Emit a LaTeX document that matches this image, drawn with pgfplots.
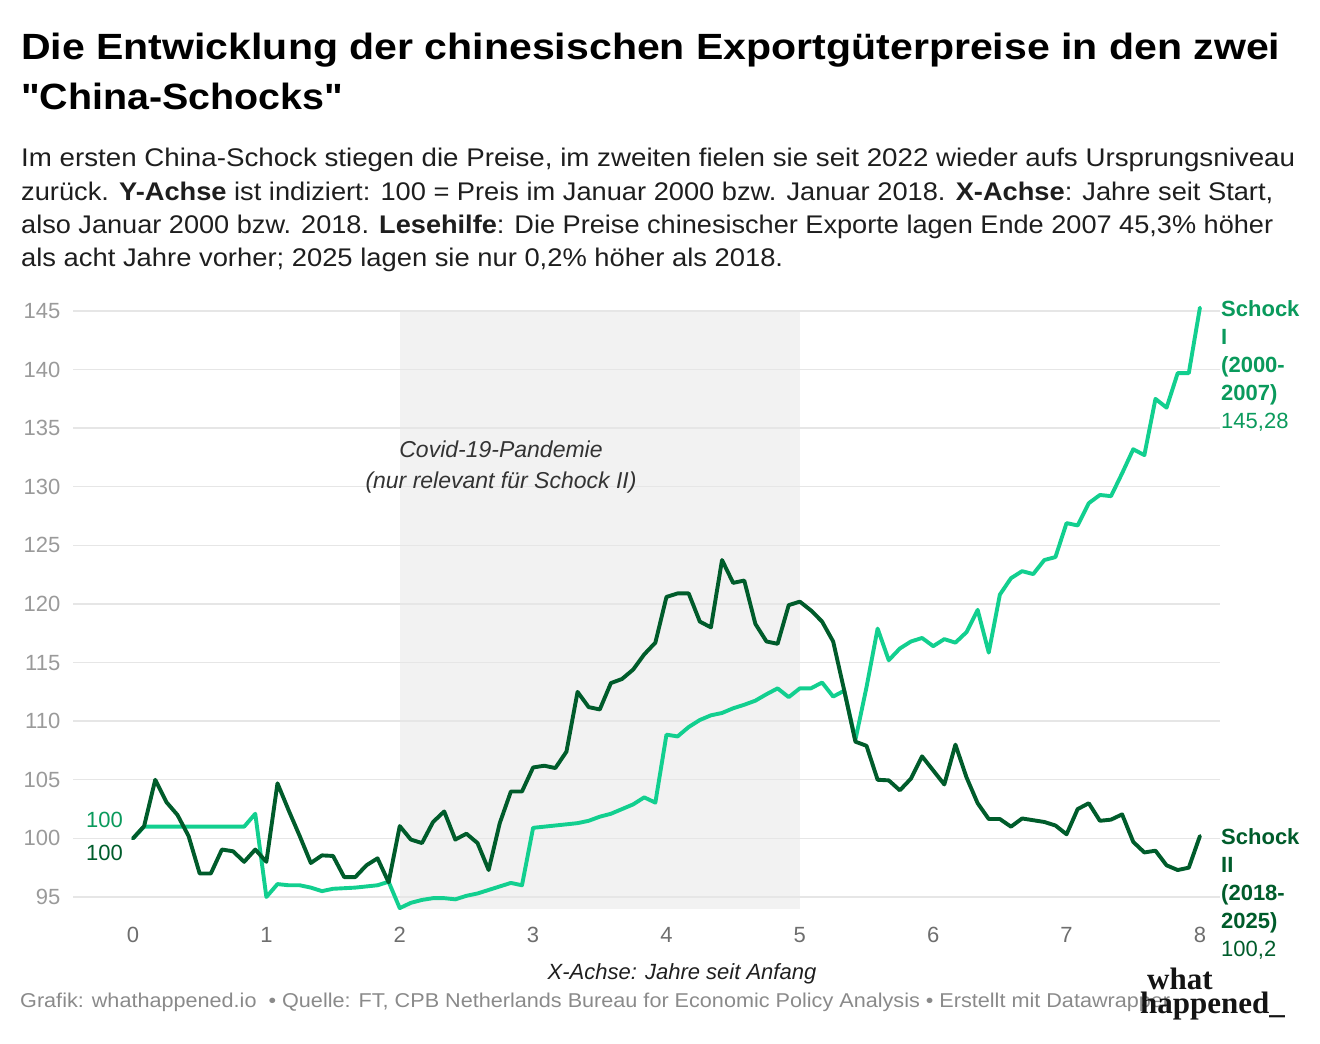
\documentclass[border=0pt]{standalone}
\usepackage{fontspec}
\setmainfont{Liberation Sans}
\newfontfamily\logofont{Liberation Serif}
\usepackage{graphicx}
\usepackage{pgfplots}
\usepackage{pgfplotstable}
\pgfplotsset{compat=1.18}

\definecolor{lightg}{HTML}{12CF8F}
\definecolor{darkg}{HTML}{005C2B}
\definecolor{lightlab}{HTML}{0A9A5C}
\definecolor{gridc}{HTML}{E6E6E6}
\definecolor{shadec}{HTML}{F2F2F2}
\definecolor{ytc}{HTML}{9A9A9A}
\definecolor{xtc}{HTML}{6E6E6E}
\definecolor{footc}{HTML}{8A8A8A}
\definecolor{subc}{HTML}{1E1E1E}
\definecolor{covc}{HTML}{333333}

\newcommand\fitline[2]{\resizebox{#1}{\height}{#2}}

\pgfplotstableread{
m v
0 100
1 101
2 101
3 101
4 101
5 101
6 101
7 101
8 101
9 101
10 101
11 102.1
12 95.0
13 96.1
14 96.0
15 96.0
16 95.8
17 95.5
18 95.7
19 95.75
20 95.8
21 95.9
22 96.0
23 96.3
24 94.05
25 94.5
26 94.75
27 94.9
28 94.9
29 94.8
30 95.1
31 95.3
32 95.6
33 95.9
34 96.2
35 96.0
36 100.9
37 101.0
38 101.1
39 101.2
40 101.3
41 101.5
42 101.85
43 102.1
44 102.5
45 102.9
46 103.5
47 103.05
48 108.85
49 108.7
50 109.5
51 110.1
52 110.5
53 110.7
54 111.1
55 111.4
56 111.75
57 112.3
58 112.8
59 112.05
60 112.8
61 112.8
62 113.3
63 112.1
64 112.6
65 108.4
66 112.9
67 117.9
68 115.2
69 116.2
70 116.8
71 117.1
72 116.4
73 117.0
74 116.7
75 117.6
76 119.5
77 115.85
78 120.8
79 122.2
80 122.8
81 122.55
82 123.75
83 124.0
84 126.9
85 126.7
86 128.6
87 129.3
88 129.2
89 131.15
90 133.2
91 132.7
92 137.5
93 136.75
94 139.7
95 139.7
96 145.28
}\schockI

\pgfplotstableread{
m v
0 100
1 101.05
2 105.0
3 103.1
4 102.0
5 100.2
6 97.0
7 97.0
8 99.05
9 98.9
10 98.0
11 99.05
12 98.0
13 104.7
14 102.4
15 100.2
16 97.9
17 98.55
18 98.5
19 96.7
20 96.7
21 97.7
22 98.3
23 96.25
24 101.05
25 99.9
26 99.6
27 101.4
28 102.3
29 99.9
30 100.4
31 99.6
32 97.3
33 101.3
34 104.0
35 104.0
36 106.05
37 106.2
38 106.0
39 107.4
40 112.5
41 111.2
42 111.0
43 113.25
44 113.6
45 114.4
46 115.7
47 116.7
48 120.6
49 120.9
50 120.9
51 118.5
52 118.0
53 123.75
54 121.8
55 122.0
56 118.3
57 116.8
58 116.6
59 119.9
60 120.2
61 119.45
62 118.5
63 116.8
64 112.6
65 108.25
66 107.9
67 105.0
68 104.95
69 104.1
70 105.1
71 107.0
72 105.8
73 104.6
74 108.0
75 105.2
76 103.0
77 101.65
78 101.65
79 101.0
80 101.7
81 101.55
82 101.4
83 101.1
84 100.35
85 102.5
86 103.0
87 101.5
88 101.6
89 102.05
90 99.7
91 98.8
92 98.95
93 97.7
94 97.3
95 97.5
96 100.2
}\schockII

\begin{document}
\begin{tikzpicture}[x=1pt,y=1pt]
\path (0,0) rectangle (1320,-1044);

% Title
\node[anchor=base west, inner sep=0pt, font=\fontsize{36.5}{40}\selectfont\bfseries] at (21,-59.3)
  {\fitline{1259pt}{Die Entwicklung der chinesischen Exportgüterpreise in den zwei}};
\node[anchor=base west, inner sep=0pt, font=\fontsize{36.5}{40}\selectfont\bfseries] at (21,-109.3)
  {\fitline{322pt}{\textquotedbl China-Schocks\textquotedbl}};

% Subtitle
\begin{scope}[every node/.style={anchor=base west, inner sep=0pt, text=subc, font=\fontsize{25.5}{30}\selectfont}]
\node at (21,-166.7) {\fitline{1274pt}{Im ersten China-Schock stiegen die Preise, im zweiten fielen sie seit 2022 wieder aufs Ursprungsniveau}};
\node at (21,-200) {\fitline{1252pt}{zurück. \textbf{Y-Achse} ist indiziert: 100 = Preis im Januar 2000 bzw. Januar 2018. \textbf{X-Achse}: Jahre seit Start,}};
\node at (21,-233.3) {\fitline{1252pt}{also Januar 2000 bzw. 2018. \textbf{Lesehilfe}: Die Preise chinesischer Exporte lagen Ende 2007 45,3\% höher}};
\node at (21,-266.7) {\fitline{762pt}{als acht Jahre vorher; 2025 lagen sie nur 0,2\% höher als 2018.}};
\end{scope}

\begin{axis}[
  at={(73pt,-908.7pt)}, anchor=south west,
  scale only axis, width=1147pt, height=603.6pt,
  xmin=-0.45, xmax=8.15, ymin=94, ymax=145.5,
  axis line style={draw=none},
  major tick length=0pt,
  xtick={0,1,2,3,4,5,6,7,8},
  ytick={95,100,105,110,115,120,125,130,135,140,145},
  ymajorgrids,
  grid style={gridc, line width=1.4pt},
  /pgf/number format/assume math mode=true,
  yticklabel style={anchor=east, inner sep=0pt, xshift=-12.5pt, text=ytc, font=\fontsize{22}{24}\selectfont},
  xticklabel style={anchor=base, inner sep=0pt, yshift=-33.8pt, text=xtc, font=\fontsize{22}{24}\selectfont},
  clip=false,
  set layers,
]
\begin{pgfonlayer}{axis background}
\fill[shadec] (axis cs:2,94) rectangle (axis cs:5,145);
\end{pgfonlayer}
\addplot[lightg, line width=3.9pt, line join=round, line cap=round] table[x expr=\thisrow{m}/12, y=v] {\schockI};
\addplot[darkg, line width=3.9pt, line join=round, line cap=round] table[x expr=\thisrow{m}/12, y=v] {\schockII};
\end{axis}

% Covid annotation
\node[anchor=base, inner sep=0pt, text=covc, font=\fontsize{23}{26}\selectfont\itshape] at (501,-457.3) {Covid-19-Pandemie};
\node[anchor=base, inner sep=0pt, text=covc, font=\fontsize{23}{26}\selectfont\itshape] at (501,-488.3) {(nur relevant für Schock II)};

% Left start labels
\node[anchor=base east, inner sep=0pt, text=lightlab, font=\fontsize{22}{24}\selectfont] at (123,-827.5) {100};
\node[anchor=base east, inner sep=0pt, text=darkg, font=\fontsize{22}{24}\selectfont] at (123,-860) {100};

% Right labels
\begin{scope}[every node/.style={anchor=base west, inner sep=0pt, font=\fontsize{22}{24}\selectfont}]
\node[text=lightlab, font=\fontsize{22}{24}\selectfont\bfseries] at (1221,-316) {Schock};
\node[text=lightlab, font=\fontsize{22}{24}\selectfont\bfseries] at (1221,-344) {I};
\node[text=lightlab, font=\fontsize{22}{24}\selectfont\bfseries] at (1221,-372) {(2000-};
\node[text=lightlab, font=\fontsize{22}{24}\selectfont\bfseries] at (1221,-400) {2007)};
\node[text=lightlab] at (1221,-428) {145,28};
\node[text=darkg, font=\fontsize{22}{24}\selectfont\bfseries] at (1221,-844) {Schock};
\node[text=darkg, font=\fontsize{22}{24}\selectfont\bfseries] at (1221,-872) {II};
\node[text=darkg, font=\fontsize{22}{24}\selectfont\bfseries] at (1221,-900) {(2018-};
\node[text=darkg, font=\fontsize{22}{24}\selectfont\bfseries] at (1221,-928) {2025)};
\node[text=darkg] at (1221,-956) {100,2};
\end{scope}

% X axis title
\node[anchor=base, inner sep=0pt, text=black!88, font=\fontsize{22}{24}\selectfont\itshape] at (682,-979) {X-Achse: Jahre seit Anfang};

% Footer
\node[anchor=base west, inner sep=0pt, text=footc, font=\fontsize{20}{22}\selectfont] at (20,-1007)
  {\fitline{1150pt}{Grafik: whathappened.io \ • Quelle: FT, CPB Netherlands Bureau for Economic Policy Analysis • Erstellt mit Datawrapper}};

% Logo
\node[anchor=base west, inner sep=0pt, text=black!92, font=\logofont\fontsize{31}{31}\selectfont\bfseries] at (1147,-989) {what};
\node[anchor=base west, inner sep=0pt, text=black!92, font=\logofont\fontsize{31}{31}\selectfont\bfseries] at (1140,-1013) {happened\_};
\end{tikzpicture}
\end{document}
